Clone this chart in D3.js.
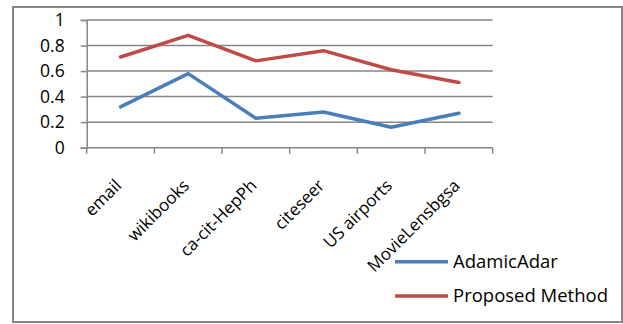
<!DOCTYPE html>
<html>
<head>
<meta charset="utf-8">
<script src="https://cdn.jsdelivr.net/npm/d3@7"></script>
<style>
  html, body { margin: 0; padding: 0; background: #fff; }
  svg { display: block; }
  text { font-family: "Open Sans", "Liberation Sans", sans-serif; fill: #000; }
</style>
</head>
<body>
<svg id="chart" width="623" height="324"></svg>
<script>
const categories = ["email", "wikibooks", "ca-cit-HepPh", "citeseer", "US airports", "MovieLensbgsa"];
const adamicAdar = [0.32, 0.58, 0.23, 0.28, 0.16, 0.27];
const proposedMethod = [0.71, 0.88, 0.68, 0.76, 0.61, 0.51];
const yTicks = [0, 0.2, 0.4, 0.6, 0.8, 1];
const seriesNames = ["AdamicAdar", "Proposed Method"];

const series = [
  { name: seriesNames[0], values: adamicAdar, color: "#4a7ebb" },
  { name: seriesNames[1], values: proposedMethod, color: "#be4b48" }
];

const svg = d3.select("#chart");
const axisColor = "#868686";

// outer frame
svg.append("rect")
  .attr("x", 13).attr("y", 7)
  .attr("width", 609).attr("height", 315)
  .attr("fill", "none").attr("stroke", axisColor).attr("stroke-width", 2);

const plot = { left: 86.7, right: 492.7, top: 20, bottom: 147.7 };

const x = d3.scaleBand().domain(categories).range([plot.left, plot.right]);
const y = d3.scaleLinear().domain([0, 1]).range([plot.bottom, plot.top]);

// horizontal gridlines
svg.append("g").selectAll("line")
  .data(yTicks.filter(d => d > 0))
  .join("line")
  .attr("x1", plot.left).attr("x2", plot.right)
  .attr("y1", d => y(d)).attr("y2", d => y(d))
  .attr("stroke", axisColor).attr("stroke-width", 1.5);

// y axis
const yAxis = svg.append("g")
  .attr("transform", `translate(${plot.left},0)`)
  .call(d3.axisLeft(y).tickValues(yTicks).tickFormat(d3.format("~g")).tickSize(6).tickPadding(16));
yAxis.select(".domain").attr("stroke", axisColor).attr("stroke-width", 1.5);
yAxis.selectAll(".tick line").attr("stroke", axisColor).attr("stroke-width", 1.5);
yAxis.selectAll(".tick text")
  .attr("font-size", 17.5)
  .attr("font-family", "Open Sans, Liberation Sans, sans-serif")
  .attr("fill", "#000");

// x axis, ticks on band boundaries
const xAxisG = svg.append("g");
xAxisG.append("line")
  .attr("x1", plot.left).attr("x2", plot.right)
  .attr("y1", plot.bottom).attr("y2", plot.bottom)
  .attr("stroke", axisColor).attr("stroke-width", 1.5);
const boundaries = categories.map(c => x(c)).concat([x(categories[categories.length - 1]) + x.bandwidth()]);
xAxisG.selectAll("line.tk")
  .data(boundaries)
  .join("line")
  .attr("class", "tk")
  .attr("x1", d => d).attr("x2", d => d)
  .attr("y1", plot.bottom).attr("y2", plot.bottom + 6)
  .attr("stroke", axisColor).attr("stroke-width", 1.5);

xAxisG.selectAll("text")
  .data(categories)
  .join("text")
  .attr("transform", d => `translate(${x(d) + x.bandwidth() / 2 + 2},${plot.bottom + 39}) rotate(-45)`)
  .attr("text-anchor", "end")
  .attr("font-size", 17)
  .text(d => d);

// series lines
const line = d3.line()
  .x((d, i) => x(categories[i]) + x.bandwidth() / 2)
  .y(d => y(d));

svg.append("g").selectAll("path")
  .data(series)
  .join("path")
  .attr("d", d => line(d.values))
  .attr("fill", "none")
  .attr("stroke", d => d.color)
  .attr("stroke-width", 3.5)
  .attr("stroke-linejoin", "round")
  .attr("stroke-linecap", "round");

// legend
const legend = svg.append("g").selectAll("g")
  .data(series)
  .join("g")
  .attr("transform", (d, i) => `translate(395,${261.7 + i * 34.3})`);
legend.append("line")
  .attr("x1", 0).attr("x2", 53)
  .attr("stroke", d => d.color).attr("stroke-width", 3.5);
legend.append("text")
  .attr("x", 58).attr("y", 6)
  .attr("font-size", 18.5)
  .text(d => d.name);
</script>
</body>
</html>
